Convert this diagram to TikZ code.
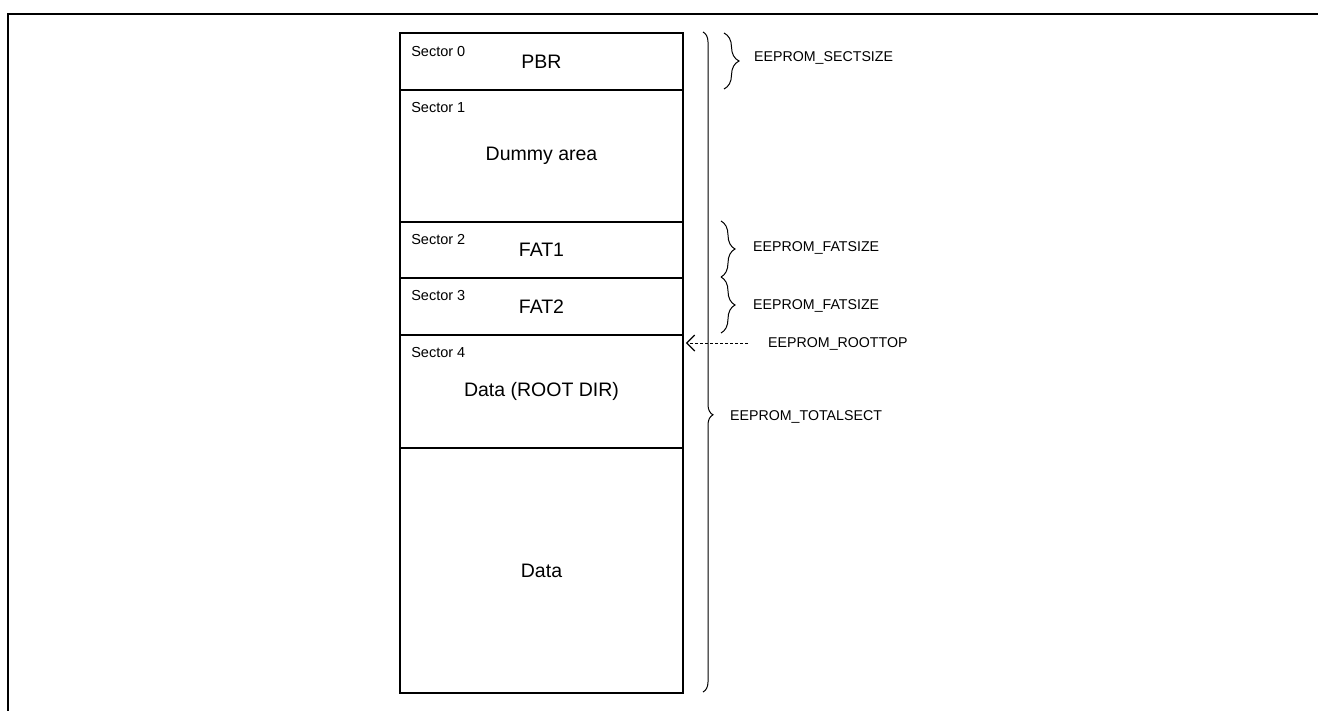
\documentclass[tikz,border=0pt]{standalone}
\usepackage{fontspec}
\setmainfont{Liberation Sans}
\usetikzlibrary{decorations.pathreplacing,arrows.meta}
\begin{document}
\begin{tikzpicture}[x=1pt,y=-1pt,
  sect/.style={draw, line width=1.8pt, minimum width=283pt, inner sep=0pt,
    anchor=north, font=\fontsize{19.5}{22}\selectfont},
  seclab/.style={anchor=west, inner sep=0pt, font=\fontsize{14.5}{16}\selectfont},
  lab/.style={anchor=west, inner sep=0pt, font=\fontsize{14.2}{16}\selectfont},
  bracestyle/.style={decorate, decoration={brace, amplitude=#1}, line width=1pt},
  bracestyle/.default=14pt,
  roottop/.style={line width=1pt, dash pattern=on 3pt off 2pt,
    -{Straight Barb[length=8pt,width=16pt,line width=1.2pt]}},
  frame/.style={line width=2pt}
]
\useasboundingbox (0,0) rectangle (1318,710);
% frame
\draw[frame] (8,712) -- (8,14) -- (1320,14);

% sectors
\node[sect, minimum height=57pt]  (s0) at (541.5,32)  {PBR};
\node[sect, minimum height=132pt] (s1) at (541.5,89)  {Dummy area};
\node[sect, minimum height=56pt]  (s2) at (541.5,221) {FAT1};
\node[sect, minimum height=57pt]  (s3) at (541.5,277) {FAT2};
\node[sect, minimum height=113pt] (s4) at (541.5,334) {Data (ROOT DIR)};
\node[sect, minimum height=245pt] (s5) at (541.5,447) {Data};

% sector labels
\node[seclab] (l0) at ([xshift=12pt,yshift=-20pt]s0.north west) {Sector 0};
\node[seclab] (l1) at ([xshift=12pt,yshift=-19pt]s1.north west) {Sector 1};
\node[seclab] (l2) at ([xshift=12pt,yshift=-19pt]s2.north west) {Sector 2};
\node[seclab] (l3) at ([xshift=12pt,yshift=-19pt]s3.north west) {Sector 3};
\node[seclab] (l4) at ([xshift=12pt,yshift=-19pt]s4.north west) {Sector 4};

% braces
\coordinate (bt0) at (703,32);
\coordinate (bt1) at (703,692);
\draw[bracestyle=10pt, decoration={aspect=0.58}] (bt0) -- (bt1);
\node[lab] (total) at (730,417) {EEPROM\_TOTALSECT};

\coordinate (sa) at (724,33);
\coordinate (sb) at (724,89);
\draw[bracestyle=15pt] (sa) -- (sb);
\node[lab] (sect) at (754,58) {EEPROM\_SECTSIZE};

\coordinate (fa) at (721,221);
\coordinate (fb) at (721,277);
\coordinate (fc) at (721,333);
\draw[bracestyle=14pt] (fa) -- (fb);
\draw[bracestyle=14pt] (fb) -- (fc);
\node[lab] (fat1) at (753,248) {EEPROM\_FATSIZE};
\node[lab] (fat2) at (753,306) {EEPROM\_FATSIZE};

% root top arrow
\node[lab] (rt) at (768,344) {EEPROM\_ROOTTOP};
\coordinate (rtstart) at (748,343);
\draw[roottop] (rtstart) -- ([xshift=2pt]rtstart -| s4.east);
\end{tikzpicture}
\end{document}
